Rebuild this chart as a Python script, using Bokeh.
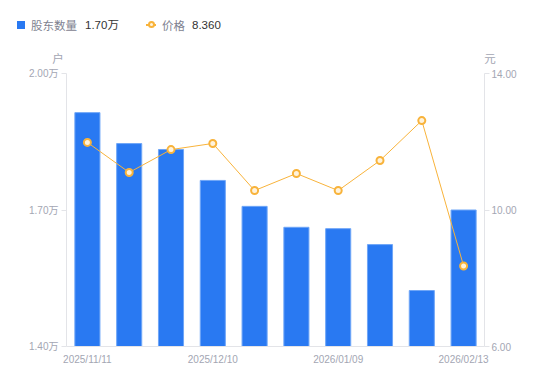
from bokeh.plotting import figure
from bokeh.layouts import column
from bokeh.models import Range1d, LinearAxis, FixedTicker, Div
from bokeh.embed import file_html
from bokeh.resources import INLINE

dates = ["2025/11/11", "2025/11/20", "2025/11/30", "2025/12/10", "2025/12/19",
         "2025/12/31", "2026/01/09", "2026/01/20", "2026/01/31", "2026/02/13"]
holders = [1.914, 1.846, 1.833, 1.765, 1.708, 1.662, 1.659, 1.624, 1.523, 1.700]
prices = [11.98, 11.10, 11.77, 11.95, 10.57, 11.07, 10.57, 11.45, 12.62, 8.36]
left_ticks = [1.40, 1.70, 2.00]
right_ticks = [6.0, 10.0, 14.0]
shown_dates = [0, 3, 6, 9]
series_names = ["股东数量", "价格"]
units = ["户", "元"]

FONT = "Liberation Sans, Noto Sans CJK SC"
CJK = "Noto Sans CJK SC"
AX_TXT = "#a3a6b3"
AX_LINE = "#e3e4e8"
BLUE = "#2979f2"
ORANGE = "#f8b33b"
W = 542
TOP_H = 65

xs = list(range(len(dates)))

# ---------- header (legend + unit labels) as HTML ----------
def txt(left, cy, s, color, size=11.5, font="'Liberation Sans','Noto Sans CJK SC'", align="left"):
    lh = 16
    if align == "center":
        pos = f"left:{left - 20}px;width:40px;text-align:center;"
    else:
        pos = f"left:{left}px;"
    return (f"<div style=\"position:absolute;{pos}top:{cy - lh / 2}px;height:{lh}px;"
            f"line-height:{lh}px;font-size:{size}px;color:{color};font-family:{font};"
            f"white-space:nowrap;\">{s}</div>")

cjk = "'Noto Sans CJK SC'"
parts = [
    f"<div style=\"position:absolute;left:17px;top:20.5px;width:8px;height:8px;background:{BLUE};\"></div>",
    txt(31, 24.5, series_names[0], "#7e8290", font=cjk),
    txt(85, 24.5, f"{holders[-1]:.2f}万", "#333333"),
    f"<div style=\"position:absolute;left:146px;top:24px;width:10px;height:1.5px;background:{ORANGE};\"></div>",
    f"<div style=\"position:absolute;left:147.5px;top:21.2px;width:7px;height:7px;box-sizing:border-box;"
    f"border:2px solid {ORANGE};border-radius:50%;background:#fff3dc;\"></div>",
    txt(162, 24.5, series_names[1], "#7e8290", font=cjk),
    txt(192, 24.5, f"{prices[-1]:.3f}", "#333333"),
    txt(58, 57.5, units[0], AX_TXT, font=cjk, align="center"),
    txt(490, 57.5, units[1], AX_TXT, font=cjk, align="center"),
]
html = (f"<div style=\"position:relative;width:{W}px;height:{TOP_H}px;margin:0;padding:0;\">"
        + "".join(parts) + "</div>")
hdr = Div(text=html, width=W, height=TOP_H, margin=0)

# ---------- main chart ----------
p = figure(width=W, height=373 - TOP_H, output_backend="svg", toolbar_location=None,
           x_range=Range1d(-0.5, len(dates) - 0.5),
           y_range=Range1d(left_ticks[0], left_ticks[-1]),
           min_border_left=66, min_border_right=58, min_border_top=8, min_border_bottom=27,
           x_axis_type=None, y_axis_type=None, margin=0)
p.outline_line_color = None
p.grid.visible = False
p.extra_y_ranges = {"price": Range1d(right_ticks[0], right_ticks[-1])}

p.vbar(x=xs, top=holders, bottom=left_ticks[0], width=0.6,
       fill_color=BLUE, line_color="#6fa6f7", line_width=1)
p.line(x=xs, y=prices, y_range_name="price", line_color=ORANGE, line_width=1)
p.scatter(x=xs, y=prices, y_range_name="price", size=7, marker="circle",
          fill_color="#fff3dc", line_color=ORANGE, line_width=2)

def style(ax):
    ax.axis_line_color = AX_LINE
    ax.major_tick_line_color = AX_LINE
    ax.minor_tick_line_color = None
    ax.major_label_text_color = AX_TXT
    ax.major_label_text_font = FONT
    ax.major_label_text_font_size = "10px"

xa = LinearAxis(ticker=FixedTicker(ticks=shown_dates),
                major_label_overrides={i: dates[i] for i in shown_dates})
style(xa)
xa.major_tick_in = 0
xa.major_tick_out = 0
xa.major_label_standoff = 7
p.add_layout(xa, "below")

ya = LinearAxis(ticker=FixedTicker(ticks=left_ticks),
                major_label_overrides={t: f"{t:.2f}万" for t in left_ticks})
style(ya)
ya.major_tick_in = 0
ya.major_tick_out = 5
ya.major_label_standoff = 3
p.add_layout(ya, "left")

ra = LinearAxis(y_range_name="price", ticker=FixedTicker(ticks=right_ticks),
                major_label_overrides={t: f"{t:.2f}" for t in right_ticks})
style(ra)
ra.major_tick_in = 0
ra.major_tick_out = 5
ra.major_label_standoff = 2
p.add_layout(ra, "right")

layout = column(hdr, p, spacing=0)
open("out.html", "w").write(file_html(layout, INLINE))
